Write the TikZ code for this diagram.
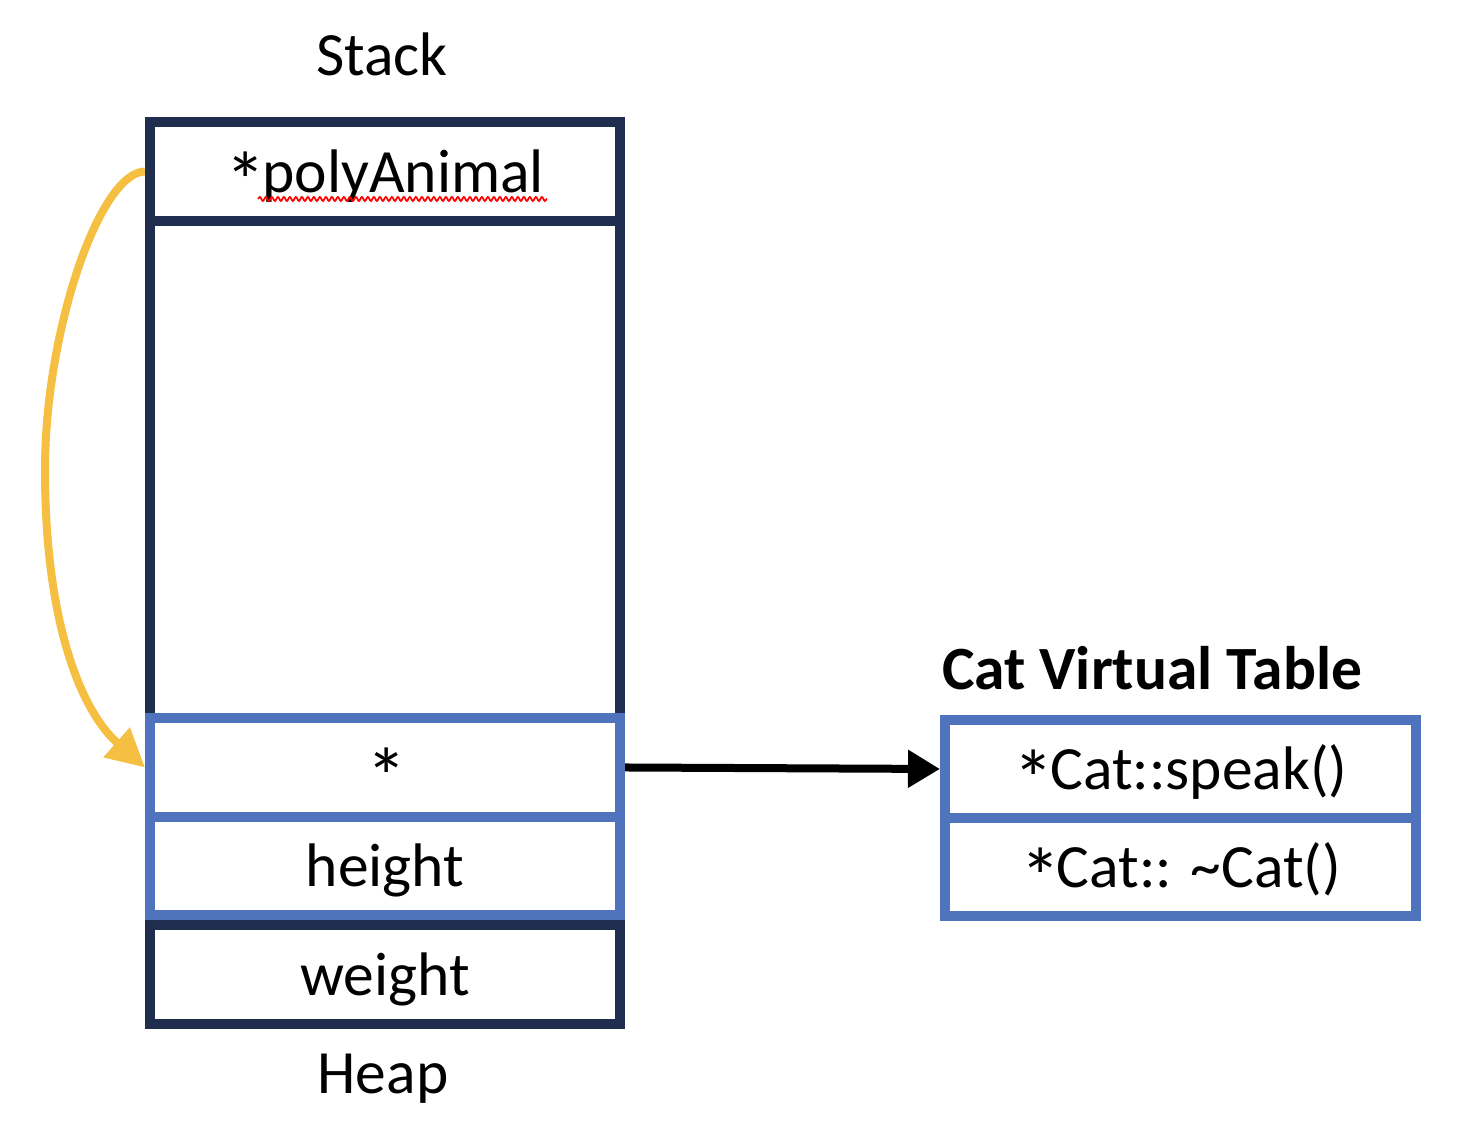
\documentclass[tikz,border=0pt]{standalone}
\usepackage{fontspec}
\setmainfont{Carlito}
\usepackage{tikz}
\usetikzlibrary{arrows.meta,decorations.pathmorphing}
\pgfdeclarelayer{edgelayer}
\pgfdeclarelayer{nodelayer}
\pgfsetlayers{edgelayer,nodelayer,main}
\definecolor{navy}{RGB}{31,45,78}
\definecolor{cellblue}{RGB}{79,115,189}
\definecolor{gold}{RGB}{245,191,66}
\newcommand{\ptrstar}{\raisebox{-0.28em}{\scalebox{1.32}{*}}\kern-0.06em}
\tikzstyle{cell}=[rectangle, fill=white, line width=0.1cm, inner sep=0pt, minimum width=4.7cm, minimum height=0.99cm, text height=0.55cm, text depth=0.13cm, font=\fontsize{17.5}{21}\selectfont]
\tikzstyle{stackcell}=[cell, draw=navy]
\tikzstyle{bluecell}=[cell, draw=cellblue]
\tikzstyle{title}=[anchor=base, font=\fontsize{17.5}{21}\selectfont]
\tikzstyle{blackedge}=[draw=black, line width=0.08cm, -{Triangle[length=0.32cm,width=0.36cm]}]
\tikzstyle{goldedge}=[draw=gold, line width=0.08cm, -{Triangle[length=0.38cm,width=0.38cm]}]
\tikzstyle{squiggle}=[draw=red, line width=0.5pt, decorate, decoration={snake, amplitude=0.02cm, segment length=0.06cm}]
\begin{document}
\begin{tikzpicture}
					\useasboundingbox (0, 0) rectangle (14.58, 11.30);
					\begin{pgfonlayer}{nodelayer}
						\node [style=stackcell] (1) at (3.85, 9.585) {\ptrstar polyAnimal};
						\node [style=stackcell, minimum height=4.97cm] (2) at (3.85, 6.605) {};
						\node [style=bluecell] (3) at (3.85, 3.625) {\ptrstar};
						\node [style=bluecell, minimum height=0.98cm] (4) at (3.85, 2.64) {height};
						\node [style=stackcell] (5) at (3.85, 1.555) {weight};
						\node [style=bluecell, minimum width=4.71cm, minimum height=0.98cm] (6) at (11.805, 3.61) {\ptrstar Cat::speak()};
						\node [style=bluecell, minimum width=4.71cm, minimum height=0.98cm] (7) at (11.805, 2.63) {\ptrstar Cat:: \textasciitilde Cat()};
						\node [style=title] (8) at (3.82, 10.54) {Stack};
						\node [style=title] (9) at (3.83, 0.36) {Heap};
						\node [style=title, font=\fontsize{17.5}{21}\selectfont\bfseries] (10) at (11.52, 4.40) {Cat Virtual Table};
						\coordinate (11) at (0.45, 6.60);
					\end{pgfonlayer}
					\begin{pgfonlayer}{edgelayer}
						\draw [style=goldedge] (1.west) .. controls (1.00, 9.58) and (0.45, 8.00) .. (11) .. controls (0.45, 5.10) and (0.80, 4.20) .. (3.west);
						\draw [style=blackedge] (3.east) to (6.west);
					\end{pgfonlayer}
					\draw [style=squiggle] (2.58, 9.31) -- (5.47, 9.31);
				\end{tikzpicture}
\end{document}
